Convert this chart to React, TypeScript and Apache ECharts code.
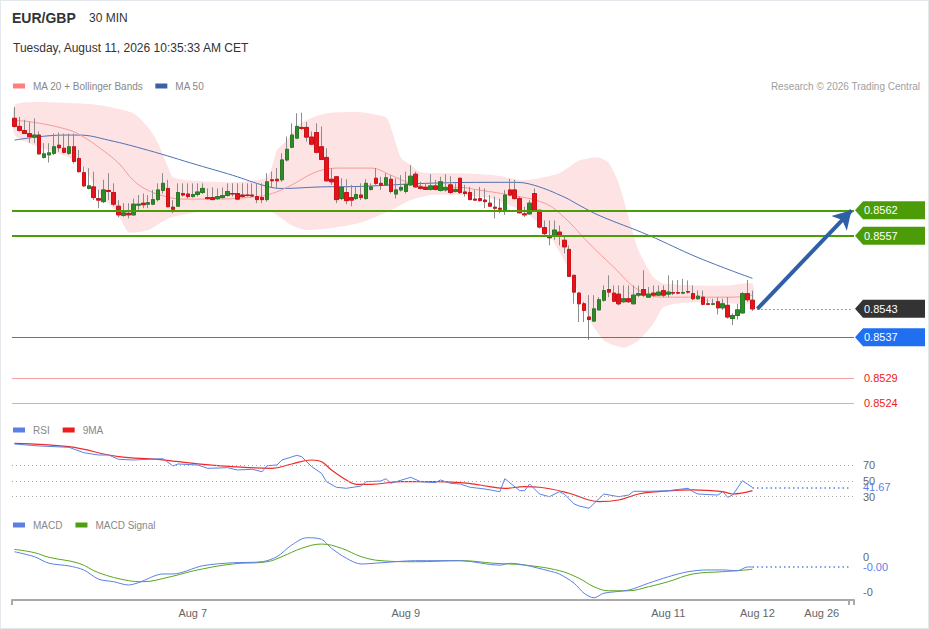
import React, { useEffect, useRef } from "react";
import * as echarts from "echarts";

const SLOTS = 170;
const tickIndex = [36, 79, 132, 150, 163];
const tickLabels = ["Aug 7", "Aug 9", "Aug 11", "Aug 12", "Aug 26"];

// [open, close, low, high]
const candles: number[][] = [
  [0.85801, 0.85785, 0.85783, 0.85823], [0.85785, 0.85777, 0.85775, 0.85804], [0.85777, 0.85771, 0.8577, 0.85798],
  [0.85771, 0.85765, 0.85753, 0.85794], [0.85764, 0.85768, 0.85752, 0.85801], [0.85768, 0.85731, 0.8573, 0.85775],
  [0.85724, 0.85731, 0.85722, 0.85752], [0.85729, 0.85733, 0.85714, 0.85752], [0.85732, 0.85745, 0.85729, 0.85771],
  [0.85748, 0.85743, 0.85735, 0.85773], [0.85742, 0.85734, 0.85732, 0.85771], [0.85732, 0.85745, 0.85729, 0.85771],
  [0.85745, 0.85716, 0.85712, 0.85771], [0.85722, 0.85696, 0.85694, 0.85739], [0.85694, 0.85668, 0.85666, 0.85706],
  [0.85663, 0.85668, 0.85661, 0.85703], [0.85666, 0.85645, 0.8564, 0.85696], [0.85643, 0.8564, 0.85624, 0.8566],
  [0.85637, 0.8566, 0.85634, 0.8568], [0.85659, 0.85657, 0.8564, 0.85693], [0.85655, 0.85632, 0.85628, 0.85673],
  [0.85628, 0.85611, 0.85606, 0.8564], [0.8561, 0.85615, 0.85607, 0.85634], [0.85614, 0.85611, 0.85604, 0.85634],
  [0.85611, 0.85632, 0.85609, 0.85643], [0.8563, 0.85632, 0.85621, 0.8565], [0.85634, 0.85631, 0.85624, 0.85653],
  [0.85632, 0.85635, 0.85624, 0.8565], [0.85632, 0.85641, 0.8563, 0.8566], [0.85641, 0.8566, 0.85637, 0.85673],
  [0.85659, 0.85673, 0.85653, 0.85693], [0.85663, 0.85627, 0.85626, 0.8568], [0.85626, 0.85622, 0.85614, 0.8564],
  [0.85628, 0.85655, 0.85627, 0.85673], [0.85653, 0.8565, 0.85647, 0.85673], [0.85652, 0.85647, 0.85643, 0.85673],
  [0.85647, 0.85651, 0.85645, 0.85673], [0.85651, 0.85656, 0.85647, 0.85673], [0.85655, 0.85663, 0.85652, 0.85673],
  [0.85645, 0.85643, 0.85641, 0.85663], [0.85645, 0.85641, 0.8564, 0.85665], [0.85643, 0.85647, 0.8564, 0.85663],
  [0.85645, 0.85649, 0.85643, 0.85665], [0.85649, 0.85657, 0.85647, 0.85673], [0.85653, 0.85652, 0.85647, 0.85673],
  [0.85653, 0.85642, 0.8564, 0.85673], [0.8565, 0.85647, 0.85645, 0.85673], [0.8565, 0.85649, 0.85647, 0.85673],
  [0.8565, 0.85648, 0.85647, 0.85673], [0.85647, 0.85641, 0.85634, 0.85673], [0.85645, 0.85641, 0.85634, 0.85673],
  [0.85641, 0.85676, 0.85637, 0.85693], [0.8568, 0.85678, 0.85665, 0.85696], [0.85681, 0.85678, 0.85663, 0.85703],
  [0.8568, 0.85719, 0.85676, 0.85732], [0.85719, 0.8574, 0.85716, 0.85765], [0.85744, 0.85768, 0.85742, 0.85791],
  [0.85762, 0.85785, 0.8576, 0.85811], [0.85783, 0.85781, 0.85778, 0.85812], [0.85783, 0.85764, 0.85755, 0.85794],
  [0.85764, 0.8575, 0.85748, 0.85775], [0.85773, 0.85734, 0.85732, 0.85791], [0.85745, 0.8572, 0.85719, 0.85785],
  [0.85724, 0.85678, 0.85676, 0.85742], [0.85681, 0.85676, 0.8567, 0.85703], [0.85686, 0.85641, 0.85634, 0.85687],
  [0.85643, 0.85665, 0.8564, 0.85683], [0.85655, 0.85639, 0.85632, 0.85681], [0.85645, 0.8564, 0.85628, 0.8567],
  [0.85643, 0.85651, 0.8564, 0.85668], [0.8565, 0.85645, 0.8564, 0.85673], [0.85643, 0.85673, 0.85641, 0.85681],
  [0.85661, 0.85666, 0.85659, 0.85673], [0.85683, 0.85673, 0.8567, 0.85703], [0.85673, 0.85669, 0.8566, 0.85686],
  [0.8567, 0.85684, 0.85668, 0.85693], [0.85681, 0.85657, 0.85653, 0.85689], [0.85652, 0.8566, 0.85643, 0.85683],
  [0.8566, 0.85665, 0.85657, 0.85689], [0.85657, 0.85671, 0.85653, 0.85696], [0.8567, 0.85687, 0.85668, 0.85709],
  [0.85691, 0.85666, 0.85665, 0.85696], [0.85666, 0.85663, 0.85661, 0.85676], [0.85665, 0.85661, 0.8566, 0.85673],
  [0.85661, 0.85668, 0.85659, 0.85691], [0.85668, 0.85661, 0.85659, 0.8568], [0.85659, 0.85676, 0.85657, 0.85686],
  [0.8566, 0.85665, 0.85657, 0.85691], [0.8567, 0.85655, 0.85652, 0.85687], [0.85657, 0.85661, 0.85655, 0.85673],
  [0.85683, 0.85655, 0.85652, 0.85684], [0.85656, 0.85653, 0.85647, 0.8567], [0.85655, 0.85641, 0.8564, 0.85666],
  [0.85642, 0.8564, 0.85639, 0.8566], [0.85643, 0.85639, 0.85637, 0.85666], [0.8564, 0.85637, 0.85624, 0.85663],
  [0.85634, 0.85628, 0.85627, 0.8565], [0.85626, 0.85624, 0.85604, 0.85647], [0.85624, 0.85622, 0.85614, 0.85643],
  [0.85621, 0.8565, 0.85611, 0.8566], [0.8566, 0.8565, 0.85648, 0.85682], [0.8566, 0.85643, 0.85641, 0.8568],
  [0.85643, 0.85615, 0.85614, 0.85647], [0.85613, 0.85611, 0.85607, 0.85627], [0.85613, 0.85634, 0.85611, 0.8564],
  [0.85653, 0.8562, 0.85617, 0.85663], [0.8562, 0.85587, 0.85584, 0.85621], [0.85586, 0.85574, 0.85571, 0.856],
  [0.85569, 0.85566, 0.85551, 0.856], [0.85571, 0.85581, 0.85562, 0.856], [0.85577, 0.85571, 0.85551, 0.8559],
  [0.85561, 0.85548, 0.85535, 0.85571], [0.85543, 0.8549, 0.85489, 0.85551], [0.85492, 0.85459, 0.85436, 0.85492],
  [0.85457, 0.85436, 0.854, 0.85459], [0.85436, 0.85423, 0.854, 0.8544], [0.8541, 0.85405, 0.85365, 0.85453],
  [0.85402, 0.85426, 0.854, 0.85453], [0.85424, 0.85444, 0.85423, 0.85449], [0.85443, 0.85462, 0.8544, 0.85472],
  [0.85464, 0.85459, 0.85449, 0.85492], [0.85457, 0.85441, 0.8544, 0.85472], [0.85455, 0.85436, 0.85433, 0.85472],
  [0.8544, 0.85446, 0.85438, 0.85472], [0.85446, 0.8544, 0.85438, 0.85472], [0.85436, 0.85453, 0.85435, 0.85472],
  [0.85453, 0.85456, 0.85449, 0.85472], [0.85464, 0.85453, 0.85449, 0.85502], [0.85449, 0.85455, 0.85448, 0.85469],
  [0.85457, 0.85453, 0.85449, 0.85472], [0.85453, 0.85459, 0.85451, 0.85472], [0.85462, 0.85453, 0.85449, 0.85472],
  [0.85455, 0.85459, 0.85449, 0.85492], [0.85458, 0.85457, 0.85453, 0.85482], [0.85458, 0.85457, 0.85455, 0.85483],
  [0.85457, 0.85458, 0.85455, 0.85485], [0.8546, 0.85459, 0.85456, 0.85482], [0.85456, 0.85446, 0.85443, 0.85472],
  [0.85446, 0.85451, 0.85444, 0.85462], [0.85449, 0.85435, 0.85433, 0.85462], [0.85436, 0.85435, 0.85433, 0.85446],
  [0.85435, 0.85436, 0.85433, 0.85446], [0.8544, 0.85428, 0.85415, 0.85449], [0.85428, 0.85436, 0.85424, 0.85446],
  [0.85433, 0.8541, 0.85407, 0.85449], [0.85407, 0.85413, 0.85394, 0.85417], [0.85413, 0.85424, 0.85405, 0.85436],
  [0.85418, 0.85456, 0.85417, 0.85459], [0.85456, 0.85444, 0.8544, 0.85483], [0.85443, 0.85426, 0.85422, 0.85462],
];

// [candle index, value]
const ma20 = [
  [0, 0.85797], [4, 0.85793], [11, 0.85778], [14, 0.85764], [17, 0.85744], [21, 0.85713], [24, 0.85679],
  [27, 0.85659], [31, 0.85646], [34, 0.85642], [41, 0.85642], [48, 0.85646], [51, 0.8565], [55, 0.85665],
  [62, 0.85699], [66, 0.85703], [72, 0.85703], [76, 0.85689], [80, 0.85673], [85, 0.85665], [90, 0.85665],
  [93, 0.85661], [100, 0.8565], [107, 0.85634], [111, 0.85606], [116, 0.85555], [121, 0.85508], [126, 0.85463],
  [131, 0.85449], [138, 0.85449], [145, 0.85449], [149, 0.85453],
];
const ma50 = [
  [0, 0.85758], [10, 0.85768], [13, 0.85768], [19, 0.85758], [27, 0.85738], [37, 0.85709], [44, 0.85689],
  [51, 0.85667], [54, 0.85663], [62, 0.85666], [70, 0.85667], [83, 0.85673], [97, 0.85675], [101, 0.85675],
  [105, 0.85669], [111, 0.85646], [114, 0.8563], [118, 0.8561], [128, 0.85571], [138, 0.85527], [149, 0.85486],
];
const bbUpper = [
  [0, 0.85827], [4, 0.85833], [11, 0.85831], [17, 0.85827], [24, 0.85811], [27, 0.85783], [29, 0.85752],
  [31, 0.85705], [32, 0.85685], [35, 0.85679], [44, 0.85675], [51, 0.85685], [53, 0.85738], [55, 0.85758],
  [58, 0.85793], [63, 0.85811], [70, 0.85813], [75, 0.85803], [76, 0.85783], [78, 0.85724], [80, 0.85709],
  [82, 0.85695], [90, 0.85693], [97, 0.85689], [103, 0.85679], [110, 0.85693], [114, 0.85718], [118, 0.85724],
  [120, 0.85713], [122, 0.85673], [124, 0.85606], [126, 0.85541], [129, 0.85488], [131, 0.85476], [138, 0.85472],
  [144, 0.85472], [149, 0.85476],
];
const bbLower = [
  [0, 0.85768], [4, 0.85748], [11, 0.85724], [14, 0.85705], [17, 0.85655], [21, 0.8561], [23, 0.85577],
  [27, 0.85581], [31, 0.85604], [37, 0.85616], [48, 0.8562], [52, 0.85616], [56, 0.8559], [59, 0.85581],
  [64, 0.85585], [70, 0.85596], [76, 0.8562], [80, 0.8564], [84, 0.8565], [90, 0.8565], [96, 0.85644],
  [100, 0.8563], [104, 0.8561], [108, 0.85571], [112, 0.85502], [116, 0.85407], [119, 0.85364], [123, 0.8535],
  [126, 0.85364], [129, 0.85397], [131, 0.85429], [134, 0.85437], [138, 0.85439], [144, 0.85437], [149, 0.85437],
];

const rsi = [
  [0, 96.5], [5, 94.0], [11, 92.3], [14, 85.5], [17, 82.6], [19, 82.6], [21, 77.2], [24, 76.3], [27, 77.2],
  [30, 77.9], [32, 68.7], [33, 71.3], [37, 70.0], [39, 65.8], [43, 66.6], [45, 63.7], [48, 64.6], [50, 61.5],
  [51, 69.1], [53, 70.0], [54, 76.3], [57, 82.2], [58, 80.5], [60, 67.9], [62, 59.5], [63, 48.9], [65, 41.9],
  [67, 40.6], [70, 43.5], [71, 48.9], [74, 49.8], [75, 52.7], [76, 46.9], [80, 54.5], [82, 48.9], [85, 47.7],
  [86, 51.1], [88, 46.9], [90, 46.0], [92, 41.9], [95, 39.7], [98, 36.3], [99, 52.7], [102, 37.6], [103, 37.6],
  [104, 46.0], [106, 33.4], [108, 30.0], [110, 36.3], [111, 33.4], [113, 20.8], [114, 18.3], [116, 15.4],
  [119, 33.4], [122, 30.0], [124, 32.1], [125, 36.8], [128, 36.8], [132, 37.6], [136, 40.6], [137, 36.3],
  [138, 33.4], [142, 32.1], [143, 36.3], [144, 29.2], [145, 32.1], [147, 50.2], [149, 41.67],
];
const rsiMa = [
  [0, 97.4], [11, 93.1], [21, 80.5], [29, 77.2], [37, 71.3], [44, 67.9], [52, 65.8], [56, 71.3], [60, 76.3],
  [62, 74.2], [64, 63.7], [67, 51.1], [69, 45.6], [72, 45.6], [78, 48.9], [85, 48.9], [90, 47.7], [94, 44.8],
  [99, 40.6], [103, 42.6], [106, 41.9], [112, 34.3], [116, 25.8], [118, 23.7], [122, 25.8], [126, 33.4],
  [130, 36.3], [137, 38.5], [143, 36.3], [145, 33.4], [149, 37.6],
];
const rsiLevels = [70, 50, 30];

const macd = [
  [0, 0.00003], [4, 0.000002], [7, -0.000036], [11, -0.000051], [14, -0.000074], [17, -0.000127], [20, -0.000141],
  [23, -0.00016], [25, -0.000147], [30, -0.000097], [32, -0.000097], [38, -0.00005], [44, -0.000033],
  [50, -0.000027], [53, 0.000002], [56, 0.000069], [59, 0.00011], [62, 0.000101], [64, 0.00005], [67, -0.000007],
  [70, -0.00004], [74, -0.000033], [81, -0.000021], [90, -0.000021], [98, -0.000047], [100, -0.000036],
  [103, -0.000046], [108, -0.00008], [110, -0.000097], [113, -0.00015], [115, -0.000207], [117, -0.000233],
  [119, -0.000207], [124, -0.000189], [128, -0.00015], [132, -0.000113], [136, -0.000084], [140, -0.000074],
  [143, -0.000074], [146, -0.000078], [148, -0.000057], [149, -0.000057],
];
const macdSignal = [
  [0, 0.000044], [4, 0.000025], [7, -0.000002], [13, -0.000036], [17, -0.00009], [23, -0.000135], [26, -0.000141],
  [31, -0.000116], [37, -0.000074], [44, -0.00004], [51, -0.000027], [54, 0.000002], [58, 0.00005], [62, 0.000074],
  [66, 0.00005], [70, 0.000002], [74, -0.000021], [81, -0.000027], [90, -0.000021], [97, -0.000036],
  [103, -0.000046], [110, -0.000078], [114, -0.000122], [117, -0.00017], [120, -0.000193], [124, -0.000193],
  [128, -0.00017], [132, -0.000141], [137, -0.000097], [143, -0.000084], [146, -0.000078], [149, -0.00007],
];

const resistances = [0.8562, 0.8557];
const pivot = 0.8537;
const supports = [0.8529, 0.8524];

const FONT = "'Liberation Sans', Arial, Helvetica, sans-serif";
const GREEN = "#4c9c0a";
const BLUE_IND = "#5b80e4";

export default function App() {
  const ref = useRef<HTMLDivElement>(null);

  useEffect(() => {
    document.body.style.margin = "0";
    const el = ref.current as HTMLDivElement;
    const chart = echarts.init(el, null, { renderer: "svg" });

    const cats = Array.from({ length: SLOTS }, (_, i) => "s" + i);
    const labelFor = (i: number) => {
      const k = tickIndex.indexOf(i);
      return k >= 0 ? tickLabels[k] : "";
    };
    const lastIdx = candles.length - 1;
    const lastClose = candles[lastIdx][1];
    const lastRsi = rsi[rsi.length - 1];
    const lastMacd = macd[macd.length - 1];
    const bodies = candles.map((c) => [c[0], c[1], Math.min(c[0], c[1]), Math.max(c[0], c[1])]);

    const gridBase = { left: 12, right: 75 };
    const xBase = (gi: number, show: boolean) => ({
      type: "category",
      gridIndex: gi,
      data: cats,
      boundaryGap: true,
      show,
    });

    const legendText = { color: "#888", fontSize: 10, fontFamily: FONT, padding: [0, 0, 0, 3] };
    const legendBase = {
      left: 13, icon: "rect", itemWidth: 12, itemHeight: 5, padding: 0,
      textStyle: legendText, selectedMode: false,
    };

    const option: any = {
      animation: false,
      backgroundColor: "#ffffff",
      textStyle: { fontFamily: FONT },
      legend: [
        { ...legendBase, data: ["MA 20 + Bollinger Bands", "MA 50"], top: 81, itemGap: 12 },
        { ...legendBase, data: ["RSI", "9MA"], top: 425, itemGap: 13 },
        { ...legendBase, data: ["MACD", "MACD Signal"], top: 520, itemGap: 13 },
      ],
      grid: [
        { ...gridBase, top: 100, height: 310 },
        { ...gridBase, top: 433.3, height: 79.25 },
        { ...gridBase, top: 522, height: 105 },
        { ...gridBase, top: 100, height: 500 },
      ],
      xAxis: [
        xBase(0, false),
        xBase(1, false),
        xBase(2, false),
        {
          ...xBase(3, true),
          axisLine: { show: true, lineStyle: { color: "#aaaaaa", width: 2 } },
          axisTick: {
            show: true,
            length: 5,
            interval: (i: number) => i === 0 || i >= SLOTS - 1,
            lineStyle: { color: "#aaaaaa", width: 2 },
          },
          axisLabel: {
            interval: 0,
            formatter: (_v: string, i: number) => labelFor(i),
            color: "#666",
            fontSize: 11,
            fontFamily: FONT,
            margin: 7,
          },
          splitLine: { show: false },
        },
      ],
      yAxis: [
        { type: "value", gridIndex: 0, min: 0.85227, max: 0.85837, show: false, scale: true },
        {
          type: "value", gridIndex: 1, min: 10, max: 110, interval: 10, position: "right",
          axisLine: { show: false }, axisTick: { show: false }, splitLine: { show: false },
          axisLabel: {
            formatter: (v: number) => (rsiLevels.indexOf(Math.round(v)) >= 0 ? String(Math.round(v)) : ""),
            color: "#666", fontSize: 11, fontFamily: FONT, margin: 9,
          },
        },
        {
          type: "value", gridIndex: 2, min: -0.0004, max: 0.0002, interval: 0.0002, position: "right",
          axisLine: { show: false }, axisTick: { show: false }, splitLine: { show: false },
          axisLabel: {
            formatter: (v: number) => (v > -0.0003 && v < 0.0001 ? v.toFixed(0) : ""),
            color: "#666", fontSize: 11, fontFamily: FONT, margin: 9,
          },
        },
        { type: "value", gridIndex: 3, min: 0, max: 1, show: false },
      ],
      series: [
        {
          type: "custom",
          name: "bands",
          xAxisIndex: 0,
          yAxisIndex: 0,
          z: 1,
          silent: true,
          clip: false,
          data: [[0, 0.856]],
          renderItem: (_p: any, api: any) => {
            const up = bbUpper.map((d) => api.coord([d[0], d[1]]));
            const lo = bbLower.map((d) => api.coord([d[0], d[1]])).reverse();
            return {
              type: "polygon",
              shape: { points: up.concat(lo), smooth: 0.2 },
              style: { fill: "#fde3e3", stroke: "none" },
            };
          },
        },
        {
          type: "line",
          name: "MA 50",
          xAxisIndex: 0, yAxisIndex: 0, z: 2,
          data: ma50, symbol: "none", smooth: 0.4,
          itemStyle: { color: "#3d60a3" },
          lineStyle: { color: "#4d72b3", width: 1 },
          markLine: {
            silent: true, symbol: ["none", "none"], label: { show: false }, precision: 6,
            data: [
              { yAxis: resistances[0], lineStyle: { color: GREEN, width: 2, type: "solid" } },
              { yAxis: resistances[1], lineStyle: { color: GREEN, width: 2, type: "solid" } },
              { yAxis: pivot, lineStyle: { color: "#3b78ee", width: 1.2, type: "solid" } },
              { yAxis: supports[0], lineStyle: { color: "#f3a3a3", width: 1, type: "solid" } },
              { yAxis: supports[1], lineStyle: { color: "#f3a3a3", width: 1, type: "solid" } },
            ],
          },
        },
        {
          type: "line",
          name: "MA 20 + Bollinger Bands",
          xAxisIndex: 0, yAxisIndex: 0, z: 2,
          data: ma20, symbol: "none", smooth: 0.4,
          itemStyle: { color: "#ff7f7f" },
          lineStyle: { color: "#f79a9a", width: 1 },
        },
        {
          type: "candlestick",
          name: "wicks",
          xAxisIndex: 0, yAxisIndex: 0, z: 3,
          barWidth: 4,
          data: candles,
          itemStyle: {
            color: "rgba(0,0,0,0)", color0: "rgba(0,0,0,0)",
            borderColor: "#8c8c8c", borderColor0: "#8c8c8c", borderWidth: 1,
          },
        },
        {
          type: "candlestick",
          name: "bodies",
          xAxisIndex: 0, yAxisIndex: 0, z: 4,
          barWidth: 4,
          data: bodies,
          itemStyle: {
            color: "#2f8a2a", color0: "#e3141c",
            borderColor: "#2a7a25", borderColor0: "#cf1018", borderWidth: 1,
          },
          markLine: {
            silent: true, label: { show: false }, precision: 6,
            data: [
              [
                { coord: [lastIdx + 1, lastClose], symbol: "none" },
                { coord: [SLOTS - 1, lastClose], symbol: "none" },
              ],
              [
                { coord: [lastIdx + 1, lastClose], symbol: "none", lineStyle: { color: "#2f5fa6", width: 4, type: "solid" } },
                { coord: [SLOTS - 1, resistances[0]], symbol: "arrow", symbolSize: [16, 18], lineStyle: { color: "#2f5fa6", width: 4, type: "solid" } },
              ],
            ],
            lineStyle: { color: "#444", width: 1, type: [1, 3] },
          },
        },
        {
          type: "line",
          name: "RSI",
          xAxisIndex: 1, yAxisIndex: 1, z: 3,
          data: rsi, symbol: "none",
          itemStyle: { color: BLUE_IND },
          lineStyle: { color: BLUE_IND, width: 1 },
          markLine: {
            silent: true, symbol: ["none", "none"], label: { show: false }, precision: 4,
            data: [[{ coord: [lastRsi[0], lastRsi[1]] }, { coord: [SLOTS - 1, lastRsi[1]] }]],
            lineStyle: { color: BLUE_IND, width: 1.5, type: [1.5, 3] },
          },
        },
        {
          type: "line",
          name: "9MA",
          xAxisIndex: 1, yAxisIndex: 1, z: 2,
          data: rsiMa, symbol: "none", smooth: 0.4,
          itemStyle: { color: "#ee1d1d" },
          lineStyle: { color: "#ee2a2a", width: 1.2 },
          markLine: {
            silent: true, symbol: ["none", "none"], label: { show: false },
            data: rsiLevels.map((v) => ({ yAxis: v })),
            lineStyle: { color: "#aaaaaa", width: 1, type: [1, 3] },
          },
        },
        {
          type: "line",
          name: "MACD",
          xAxisIndex: 2, yAxisIndex: 2, z: 3,
          data: macd, symbol: "none", smooth: 0.3,
          itemStyle: { color: BLUE_IND },
          lineStyle: { color: BLUE_IND, width: 1 },
          markLine: {
            silent: true, symbol: ["none", "none"], label: { show: false }, precision: 8,
            data: [[{ coord: [lastMacd[0], lastMacd[1]] }, { coord: [SLOTS - 1, lastMacd[1]] }]],
            lineStyle: { color: BLUE_IND, width: 1.5, type: [1.5, 3] },
          },
        },
        {
          type: "line",
          name: "MACD Signal",
          xAxisIndex: 2, yAxisIndex: 2, z: 2,
          data: macdSignal, symbol: "none", smooth: 0.4,
          itemStyle: { color: "#4f9e12" },
          lineStyle: { color: "#5aa51c", width: 1 },
        },
      ],
    };

    chart.setOption(option);

    const gx = (i: number) => chart.convertToPixel({ xAxisIndex: 0 }, i) as unknown as number;
    const gy = (axis: number, v: number) => chart.convertToPixel({ yAxisIndex: axis }, v) as unknown as number;
    const band = gx(1) - gx(0);
    const xr = gx(SLOTS - 1) + band / 2;

    const txt = (x: number, y: number, text: string, fill: string, size: number, extra: any = {}) => ({
      type: "text",
      x,
      y,
      z: 20,
      silent: true,
      style: {
        text,
        fill,
        fontSize: size,
        fontFamily: FONT,
        align: extra.align || "left",
        textAlign: extra.align || "left",
        verticalAlign: "middle",
        textVerticalAlign: "middle",
        fontWeight: extra.weight || "normal",
      },
    });

    const boxDefs = [
      { v: resistances[0], fill: GREEN },
      { v: resistances[1], fill: GREEN },
      { v: lastClose, fill: "#333333" },
      { v: pivot, fill: "#1f6ff0" },
    ];
    const graphics: any[] = [
      txt(12, 18, "EUR/GBP", "#333", 14, { weight: "bold" }),
      txt(89, 18, "30 MIN", "#333", 12),
      txt(13, 48, "Tuesday, August 11, 2026 10:35:33 AM CET", "#333", 12),
      txt(920, 86, "Research \u00a9 2026 Trading Central", "#a0a0a0", 10, { align: "right" }),
    ];
    boxDefs.forEach((b) => {
      const y = gy(0, b.v);
      graphics.push({
        type: "polygon",
        z: 19,
        silent: true,
        shape: {
          points: [
            [xr + 1, y],
            [xr + 9, y - 9],
            [xr + 71, y - 9],
            [xr + 71, y + 9],
            [xr + 9, y + 9],
          ],
        },
        style: { fill: b.fill },
      });
      graphics.push(txt(xr + 10, y, b.v.toFixed(4), "#ffffff", 11));
    });
    supports.forEach((v) => {
      graphics.push(txt(xr + 10, gy(0, v), v.toFixed(4), "#ee2020", 11));
    });
    graphics.push(txt(xr + 9, gy(1, lastRsi[1]), lastRsi[1].toFixed(2), BLUE_IND, 11));
    graphics.push(txt(xr + 9, gy(2, lastMacd[1]), lastMacd[1].toFixed(2), BLUE_IND, 11));

    chart.setOption({ graphic: graphics });

    return () => {
      chart.dispose();
    };
  }, []);

  return (
    <div style={{ position: "relative", width: 929, height: 629, background: "#fff" }}>
      <div ref={ref} style={{ position: "absolute", left: 0, top: 0, width: 929, height: 629 }} />
      <div
        style={{
          position: "absolute",
          left: 0,
          top: 0,
          width: 929,
          height: 629,
          boxSizing: "border-box",
          border: "1px solid #e4e8ed",
          pointerEvents: "none",
        }}
      />
    </div>
  );
}
